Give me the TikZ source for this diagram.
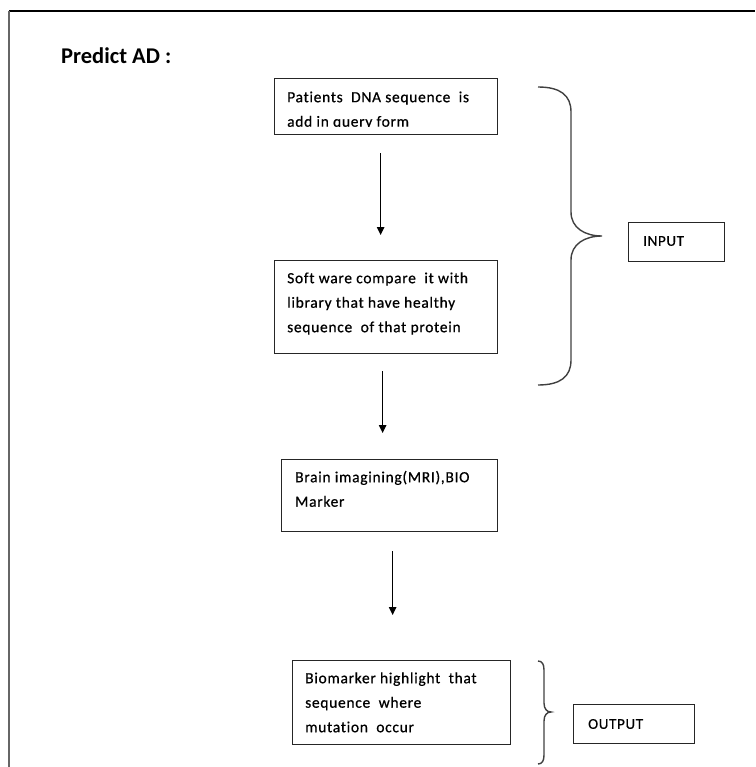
\documentclass[tikz,border=0pt]{standalone}
\usepackage{fontspec}
\setmainfont[Ligatures=NoCommon]{Carlito}
\newfontfamily\boxfont[Ligatures=NoCommon,LetterSpace=4.5,FakeBold=0.6]{Carlito}
\usetikzlibrary{arrows.meta}
\newcommand{\topstrut}{\rule{0pt}{12pt}}
\begin{document}
\begin{tikzpicture}[x=1pt,y=-1pt,
  box/.style={draw=black!85,line width=1.3pt,rectangle,inner sep=0pt,anchor=north west},
  txt/.style={anchor=north west,inner sep=0pt,align=left,font=\boxfont\fontsize{15.5}{24.5}\selectfont},
  tag/.style={anchor=west,inner sep=0pt,font=\boxfont\fontsize{15}{16}\selectfont},
  arr/.style={-{Triangle[length=8pt,width=7.5pt]},line width=1.1pt},
  brace/.style={draw=black!75,line width=1.4pt}]
\useasboundingbox (0,0) rectangle (755,767);

% page frame (top and left edges)
\draw[line width=1.5pt] (9,11) -- (755,11);
\draw[line width=2pt,black!60] (9,11) -- (9,767);

% title
\node[anchor=west,inner sep=0pt,font=\fontsize{22.5}{24}\selectfont\bfseries] (title) at (61,56) {Predict AD :};

% process boxes
\node[box,minimum width=223pt,minimum height=56pt] (b1) at (274,78) {};
\node[box,minimum width=223pt,minimum height=93pt] (b2) at (274,260) {};
\node[box,minimum width=216pt,minimum height=72pt] (b3) at (281,459) {};
\node[box,minimum width=218pt,minimum height=84pt] (b4) at (292,660) {};

% box texts (first baseline 12pt below the node top)
\begin{scope}
  \clip (274,78) rectangle (497,127);
  \node[txt] (t1) at (287,90) {\topstrut Patients\ \ DNA\ sequence\ \ is\\add in query form};
\end{scope}
\node[txt] (t2) at (287,271) {\topstrut Soft ware compare\ \ it with\\library that have healthy\\sequence\ \ of that protein};
\node[txt] (t3) at (295,470) {\topstrut Brain imagining(MRI),BIO\\Marker};
\node[txt] (t4) at (305,671) {\topstrut Biomarker highlight\ \ that\\sequence\ \ where\\mutation\ \ occur};

% input / output labels
\node[box,minimum width=96pt,minimum height=39pt] (in) at (628,222) {};
\node[tag] (intext) at (643,241) {INPUT};
\node[box,minimum width=121pt,minimum height=39pt] (out) at (573,704) {};
\node[tag] (outtext) at (588,724) {OUTPUT};

% flow arrows
\draw[arr] ([xshift=-5.5pt,yshift=-18pt]b1.south) -- ([xshift=-5.5pt,yshift=25pt]b2.north);
\draw[arr] ([xshift=-3.5pt,yshift=-17pt]b2.south) -- ([xshift=-7pt,yshift=26pt]b3.north);
\draw[arr] ([xshift=3pt,yshift=-19pt]b3.south) -- ([xshift=-9pt,yshift=45pt]b4.north);

% grouping braces
\draw[brace] (538,87) .. controls (560,87) and (571,95) .. (571,112) -- (571,212)
  .. controls (571,228) and (585,236) .. (602,236)
  .. controls (585,236) and (571,244) .. (571,260) -- (571,360)
  .. controls (571,377) and (560,385) .. (538,385);
\draw[brace] (538,661) .. controls (542,661) and (544,664) .. (544,670) -- (544,703)
  .. controls (544,709) and (547,712) .. (551,712)
  .. controls (547,712) and (544,715) .. (544,721) -- (544,755)
  .. controls (544,761) and (542,764) .. (538,764);
\end{tikzpicture}
\end{document}
